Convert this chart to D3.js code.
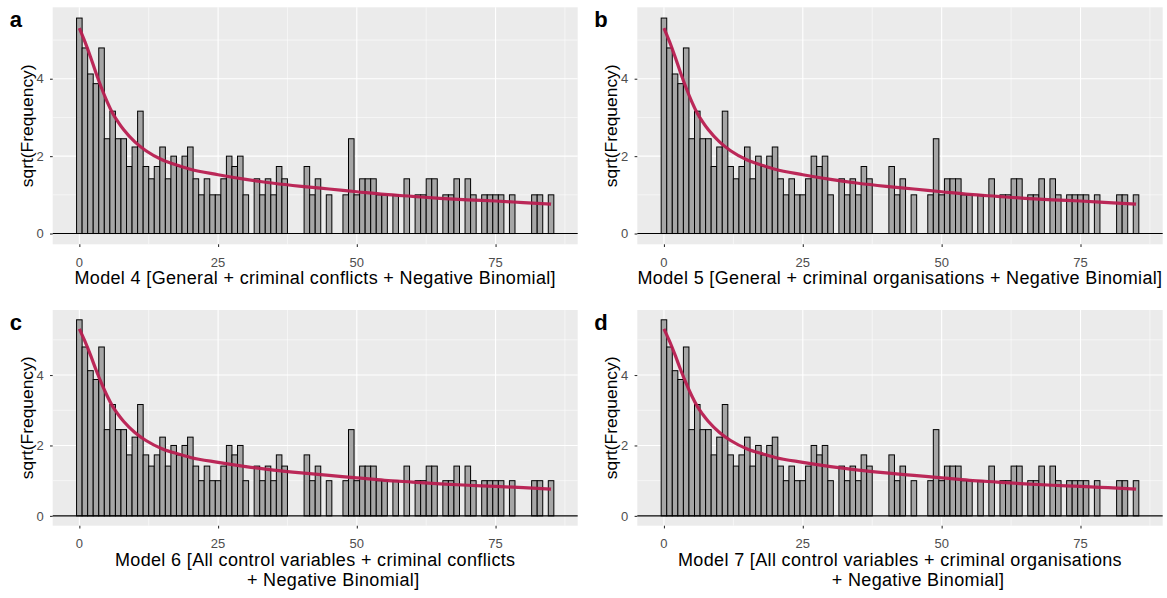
<!DOCTYPE html>
<html>
<head>
<meta charset="utf-8">
<script src="https://cdn.jsdelivr.net/npm/d3@7"></script>
<style>
  html, body { margin: 0; padding: 0; background: #ffffff; }
  svg { display: block; font-family: "Liberation Sans", Arial, sans-serif; }
</style>
</head>
<body>
<svg id="chart" width="1167" height="598"></svg>
<script>
// Observed count values (number of events per unit) and their frequencies
const countValues = d3.range(0, 86);
const observedFreq = [
  31, 23, 17, 15, 23, 6, 10, 6, 6, 3,
  5, 10, 3, 2, 3, 5, 2, 4, 3, 4,
  5, 2, 1, 2, 1, 1, 2, 4, 3, 4,
  1, 0, 2, 1, 2, 1, 3, 2, 0, 0,
  0, 3, 1, 2, 0, 1, 0, 0, 1, 6,
  1, 2, 2, 2, 1, 1, 0, 1, 0, 2,
  0, 1, 1, 2, 2, 0, 1, 1, 2, 0,
  2, 1, 0, 1, 1, 1, 1, 0, 1, 0,
  0, 0, 1, 1, 0, 1
];

// Fitted negative binomial: expected sqrt(frequency) at selected counts
const expectedCounts = [0, 1, 2, 3, 4, 5, 6, 7, 8, 10, 12, 15, 18, 20, 25, 30, 35, 40, 45, 50, 55, 60, 65, 70, 75, 80, 85];
const expectedSqrt   = [5.31, 4.96, 4.57, 4.15, 3.76, 3.41, 3.11, 2.88, 2.68, 2.37, 2.14, 1.90, 1.75, 1.66, 1.52, 1.40, 1.30, 1.22, 1.15, 1.08, 1.01, 0.96, 0.91, 0.87, 0.84, 0.80, 0.76];

// Panel tags and axis titles
const panelTags = ["a", "b", "c", "d"];
const panelTitles = [
  ["Model 4 [General + criminal conflicts + Negative Binomial]"],
  ["Model 5 [General + criminal organisations + Negative Binomial]"],
  ["Model 6 [All control variables + criminal conflicts", "+ Negative Binomial]"],
  ["Model 7 [All control variables + criminal organisations", "+ Negative Binomial]"]
];
const xTickValues = [0, 25, 50, 75];
const xMinorValues = [12.5, 37.5, 62.5, 87.5];
const yTickValues = [0, 2, 4];
const yMinorValues = [1, 3, 5];
const yTitle = "sqrt(Frequency)";

// Panel geometry (plot area of each facet); title lines sit below the tick labels
const layout = [
  { left: 52.7,  right: 577.7,  top: 7.3, bottom: 244.3, lineShift: [0] },
  { left: 637.3, right: 1162.7, top: 7.3, bottom: 244.3, lineShift: [0] },
  { left: 52.7,  right: 577.7,  top: 310, bottom: 525.7, lineShift: [0, 18] },
  { left: 637.3, right: 1162.7, top: 310, bottom: 525.7, lineShift: [0, 18] }
];

const xDomain = [-0.5 - 0.05 * 86, 85.5 + 0.05 * 86];
const yMax = Math.sqrt(d3.max(observedFreq));
const yDomain = [-0.05 * yMax, yMax * 1.05];

const svg = d3.select("#chart");
const barColor = "#a6a6a6";
const curveColor = "#b81d50";

const obsData = countValues.map((k, i) => ({ k, f: observedFreq[i] }));
const expData = expectedCounts.map((k, i) => ({ k, v: expectedSqrt[i] }));

layout.forEach((L, p) => {
  const g = svg.append("g");
  const x = d3.scaleLinear().domain(xDomain).range([L.left, L.right]);
  const y = d3.scaleLinear().domain(yDomain).range([L.bottom, L.top]);
  const midX = (L.left + L.right) / 2;

  // panel background
  g.append("rect")
    .attr("x", L.left).attr("y", L.top)
    .attr("width", L.right - L.left).attr("height", L.bottom - L.top)
    .attr("fill", "#ebebeb");

  // minor grid
  g.selectAll(".xminor").data(xMinorValues.filter(v => v > xDomain[0] && v < xDomain[1]))
    .join("line")
    .attr("x1", d => x(d)).attr("x2", d => x(d))
    .attr("y1", L.top).attr("y2", L.bottom)
    .attr("stroke", "#ffffff").attr("stroke-width", 0.55);
  g.selectAll(".yminor").data(yMinorValues)
    .join("line")
    .attr("y1", d => y(d)).attr("y2", d => y(d))
    .attr("x1", L.left).attr("x2", L.right)
    .attr("stroke", "#ffffff").attr("stroke-width", 0.55);

  // major grid
  g.selectAll(".xmajor").data(xTickValues)
    .join("line")
    .attr("x1", d => x(d)).attr("x2", d => x(d))
    .attr("y1", L.top).attr("y2", L.bottom)
    .attr("stroke", "#ffffff").attr("stroke-width", 1.1);
  g.selectAll(".ymajor").data(yTickValues)
    .join("line")
    .attr("y1", d => y(d)).attr("y2", d => y(d))
    .attr("x1", L.left).attr("x2", L.right)
    .attr("stroke", "#ffffff").attr("stroke-width", 1.1);

  // observed frequency bars
  g.selectAll(".bar").data(obsData.filter(d => d.f > 0))
    .join("rect")
    .attr("x", d => x(d.k - 0.5))
    .attr("width", d => x(d.k + 0.5) - x(d.k - 0.5))
    .attr("y", d => y(Math.sqrt(d.f)))
    .attr("height", d => y(0) - y(Math.sqrt(d.f)))
    .attr("fill", barColor)
    .attr("stroke", "#000000")
    .attr("stroke-width", 1);

  // zero reference line
  g.append("line")
    .attr("x1", L.left).attr("x2", L.right)
    .attr("y1", y(0)).attr("y2", y(0))
    .attr("stroke", "#000000").attr("stroke-width", 1.1);

  // fitted curve
  const line = d3.line()
    .x(d => x(d.k)).y(d => y(d.v))
    .curve(d3.curveMonotoneX);
  g.append("path")
    .datum(expData)
    .attr("d", line)
    .attr("fill", "none")
    .attr("stroke", curveColor)
    .attr("stroke-width", 3.2)
    .attr("stroke-linejoin", "round")
    .attr("stroke-opacity", 0.95);

  // x axis
  const xAxis = g.append("g")
    .attr("transform", `translate(0,${L.bottom})`)
    .call(d3.axisBottom(x).tickValues(xTickValues).tickSize(2.7).tickPadding(2).tickFormat(d3.format("d")));
  xAxis.select(".domain").remove();
  xAxis.selectAll(".tick line").attr("stroke", "#333333").attr("stroke-width", 1.1);
  xAxis.selectAll(".tick text").remove();
  g.selectAll(".xlab").data(xTickValues)
    .join("text")
    .attr("x", d => x(d)).attr("y", L.bottom + 22.5)
    .attr("text-anchor", "middle")
    .attr("font-size", 13).attr("fill", "#4d4d4d")
    .text(d => d);

  // y axis
  const yAxis = g.append("g")
    .attr("transform", `translate(${L.left},0)`)
    .call(d3.axisLeft(y).tickValues(yTickValues).tickSize(2.7).tickFormat(d3.format("d")));
  yAxis.select(".domain").remove();
  yAxis.selectAll(".tick line").attr("stroke", "#333333").attr("stroke-width", 1.1);
  yAxis.selectAll(".tick text").remove();
  g.selectAll(".ylab").data(yTickValues)
    .join("text")
    .attr("x", L.left - 9).attr("y", d => y(d) + 4.7)
    .attr("text-anchor", "end")
    .attr("font-size", 13).attr("fill", "#4d4d4d")
    .text(d => d);

  // y title
  g.append("text")
    .attr("transform", `translate(${L.left - 20},${(L.top + L.bottom) / 2}) rotate(-90)`)
    .attr("text-anchor", "middle")
    .attr("font-size", 17.4).attr("fill", "#000000")
    .text(yTitle);

  // x title (one or two lines)
  panelTitles[p].forEach((t, j) => {
    g.append("text")
      .attr("x", midX + L.lineShift[j]).attr("y", L.bottom + 40 + j * 20)
      .attr("text-anchor", "middle")
      .attr("font-size", 18).attr("letter-spacing", 0.35).attr("fill", "#000000")
      .text(t);
  });

  // panel tag
  g.append("text")
    .attr("x", L.left - 43).attr("y", L.top + 20)
    .attr("font-size", 22).attr("font-weight", "bold").attr("fill", "#000000")
    .text(panelTags[p]);
});
</script>
</body>
</html>
